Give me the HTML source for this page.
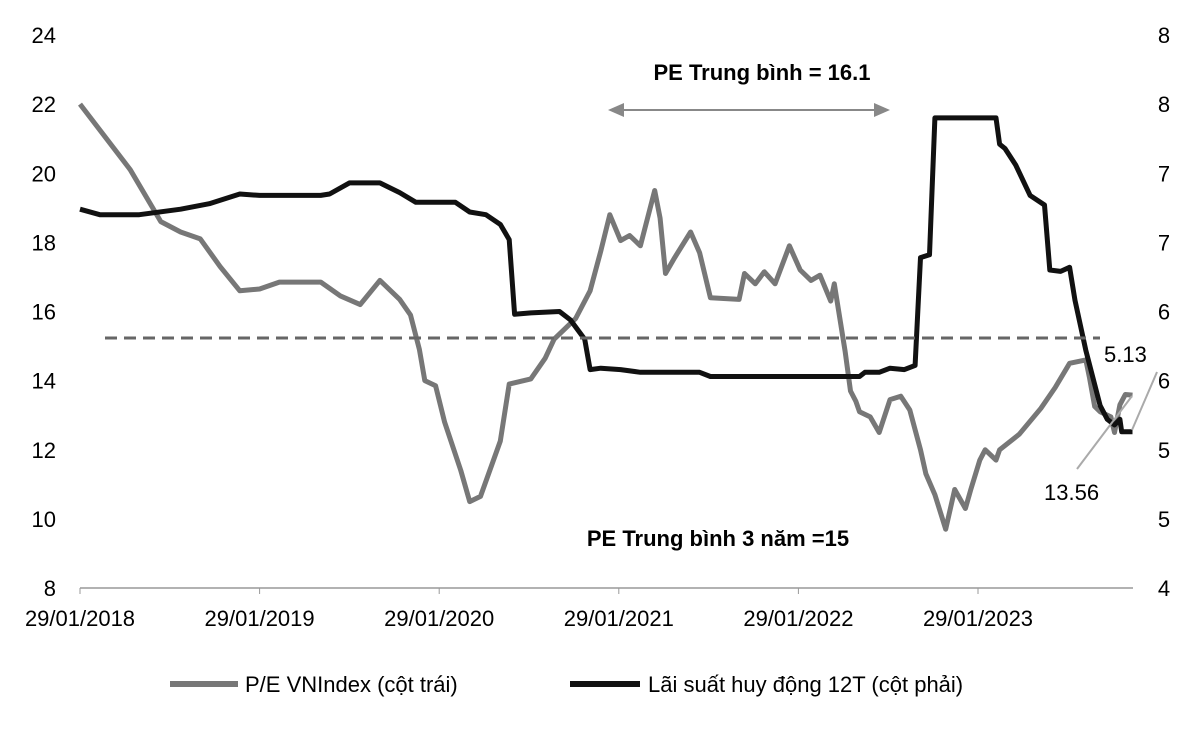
<!DOCTYPE html>
<html><head><meta charset="utf-8"><style>
body{margin:0;background:#fff;}
svg{display:block;font-family:"Liberation Sans","Noto Sans CJK SC",sans-serif;}
</style></head><body>
<svg id="chart" width="1200" height="729" viewBox="0 0 1200 729">
<g id="axes"></g>
<g id="marks"></g>
<line x1="105" y1="338" x2="1100" y2="338" stroke="#666" stroke-width="3" stroke-dasharray="12,7"/>
<text x="762" y="80" text-anchor="middle" font-size="22" font-weight="bold">PE Trung bình = 16.1</text>
<g stroke="#888" stroke-width="2" fill="#888">
<line x1="612" y1="110" x2="886" y2="110"/>
<polygon points="608,110 624,103 624,117" stroke="none"/>
<polygon points="890,110 874,103 874,117" stroke="none"/>
</g>
<text x="718" y="546" text-anchor="middle" font-size="22" font-weight="bold">PE Trung bình 3 năm =15</text>
<line x1="1077" y1="469" x2="1132" y2="396" stroke="#aaa" stroke-width="2"/>
<line x1="1157" y1="372" x2="1132" y2="430" stroke="#aaa" stroke-width="2"/>
<text x="1104" y="362" font-size="22">5.13</text>
<text x="1044" y="500" font-size="22">13.56</text>
<g>
<line x1="170" y1="684" x2="238" y2="684" stroke="#777" stroke-width="6"/>
<text x="245" y="692" font-size="22">P/E VNIndex (cột trái)</text>
<line x1="570" y1="684" x2="640" y2="684" stroke="#111" stroke-width="6"/>
<text x="648" y="692" font-size="22">Lãi suất huy động 12T (cột phải)</text>
</g>
</svg>
<script>
const leftTicks=[8,10,12,14,16,18,20,22,24];
const rightTickLabels=["4","5","5","6","6","7","7","8","8"];
const xTickLabels=["29/01/2018","29/01/2019","29/01/2020","29/01/2021","29/01/2022","29/01/2023"];
const peDates=[2018.08,2018.36,2018.53,2018.64,2018.75,2018.86,2018.97,2019.08,2019.19,2019.42,2019.53,2019.64,2019.75,2019.86,2019.92,2019.97,2020.00,2020.06,2020.11,2020.20,2020.25,2020.31,2020.42,2020.47,2020.59,2020.67,2020.72,2020.84,2020.92,2020.98,2021.03,2021.09,2021.14,2021.20,2021.28,2021.31,2021.34,2021.39,2021.48,2021.53,2021.59,2021.75,2021.78,2021.84,2021.89,2021.95,2022.03,2022.09,2022.15,2022.20,2022.26,2022.28,2022.34,2022.37,2022.40,2022.42,2022.48,2022.53,2022.59,2022.65,2022.70,2022.76,2022.79,2022.84,2022.90,2022.95,2023.01,2023.04,2023.09,2023.12,2023.18,2023.20,2023.31,2023.43,2023.51,2023.59,2023.68,2023.70,2023.73,2023.76,2023.82,2023.84,2023.87,2023.90,2023.94];
const peValues=[22.0,20.1,18.6,18.3,18.1,17.3,16.6,16.65,16.85,16.85,16.45,16.2,16.9,16.35,15.9,14.9,14.0,13.85,12.8,11.4,10.5,10.65,12.25,13.9,14.05,14.65,15.2,15.8,16.6,17.75,18.8,18.05,18.2,17.9,19.5,18.7,17.1,17.55,18.3,17.7,16.4,16.35,17.1,16.8,17.15,16.8,17.9,17.2,16.9,17.05,16.3,16.8,14.85,13.7,13.4,13.1,12.95,12.5,13.45,13.55,13.15,12.0,11.3,10.7,9.7,10.85,10.3,10.85,11.7,12.0,11.7,12.0,12.45,13.2,13.8,14.5,14.6,14.1,13.25,13.1,12.95,12.5,13.3,13.6,13.58];
const rateDates=[2018.08,2018.19,2018.41,2018.64,2018.80,2018.97,2019.08,2019.42,2019.47,2019.58,2019.75,2019.86,2019.95,2020.17,2020.25,2020.34,2020.42,2020.47,2020.50,2020.59,2020.75,2020.81,2020.89,2020.92,2020.98,2021.09,2021.20,2021.53,2021.59,2022.09,2022.42,2022.45,2022.53,2022.59,2022.67,2022.73,2022.76,2022.81,2022.84,2023.18,2023.20,2023.23,2023.29,2023.37,2023.45,2023.48,2023.54,2023.59,2023.62,2023.68,2023.76,2023.80,2023.84,2023.87,2023.88,2023.94];
const rateValues=[6.74,6.70,6.70,6.74,6.78,6.85,6.84,6.84,6.85,6.93,6.93,6.86,6.79,6.79,6.72,6.70,6.63,6.52,5.98,5.99,6.00,5.94,5.80,5.58,5.59,5.58,5.56,5.56,5.53,5.53,5.53,5.56,5.56,5.59,5.58,5.61,6.39,6.41,7.40,7.40,7.21,7.18,7.06,6.84,6.77,6.30,6.29,6.32,6.08,5.72,5.32,5.22,5.18,5.22,5.13,5.13];
const NS="http://www.w3.org/2000/svg";
const X0=80,Y0=588,YTOP=35,PX_YEAR=179.6;
function xs(d){return X0+(d-2018.08)*PX_YEAR;}
function yl(v){return Y0-(v-8)/16*(Y0-YTOP);}
function yr(v){return Y0-(v-4)/4*(Y0-YTOP);}
function mk(tag,attrs,parent){const e=document.createElementNS(NS,tag);for(const k in attrs)e.setAttribute(k,attrs[k]);parent.appendChild(e);return e;}
const axes=document.getElementById('axes'),marks=document.getElementById('marks');
const ax=mk('line',{x1:X0,y1:Y0,x2:1133,y2:Y0,stroke:'#999','stroke-width':1.5},axes);


leftTicks.forEach((v,i)=>{
 const t=mk('text',{x:56,y:yl(v)+8,'text-anchor':'end','font-size':22},axes);t.textContent=v;
 
 
 const r=mk('text',{x:1164,y:yr(4+i*0.5)+8,'text-anchor':'middle','font-size':22},axes);r.textContent=rightTickLabels[i];
 
 
});
xTickLabels.forEach((s,i)=>{
 const x=xs(2018.08+i);
 mk('line',{x1:x,y1:Y0,x2:x,y2:Y0+6,stroke:'#999'},axes);
 const t=mk('text',{x:x,y:626,'text-anchor':'middle','font-size':22},axes);t.textContent=s;
 
 
});
function path(ds,vs,f){return ds.map((d,i)=>(i?'L':'M')+xs(d).toFixed(1)+','+f(vs[i]).toFixed(1)).join(' ');}
const pe=mk('path',{d:path(peDates,peValues,yl),fill:'none',stroke:'#777','stroke-width':5,'stroke-linejoin':'round'},marks);


const rt=mk('path',{d:path(rateDates,rateValues,yr),fill:'none',stroke:'#111','stroke-width':5,'stroke-linejoin':'round'},marks);


</script>
</body></html>
